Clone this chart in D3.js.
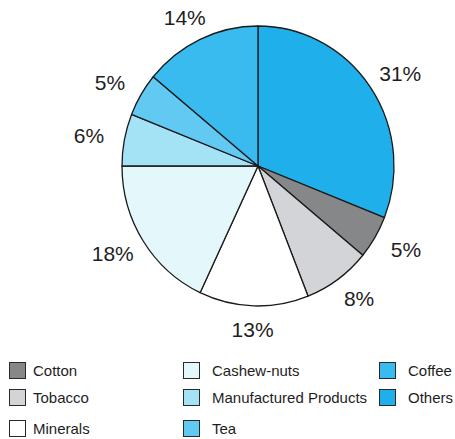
<!DOCTYPE html>
<html>
<head>
<meta charset="utf-8">
<script src="https://cdn.jsdelivr.net/npm/d3@7"></script>
<style>
  html, body { margin: 0; padding: 0; background: #fff; }
  svg { display: block; font-family: "Liberation Sans", Arial, Helvetica, sans-serif; }
</style>
</head>
<body>
<svg id="chart" width="455" height="439"></svg>
<script>
// Export shares, clockwise from 12 o'clock
const sliceNames  = ["Others", "Cotton", "Tobacco", "Minerals", "Cashew-nuts", "Manufactured Products", "Tea", "Coffee"];
const sliceValues = [31, 5, 8, 13, 18, 6, 5, 14];

// Legend layout order (column by column)
const legendNames = ["Cotton", "Tobacco", "Minerals", "Cashew-nuts", "Manufactured Products", "Tea", "Coffee", "Others"];

const colors = {
  "Cotton": "#858789",
  "Tobacco": "#d3d4d8",
  "Minerals": "#ffffff",
  "Cashew-nuts": "#e4f8fc",
  "Manufactured Products": "#a4e2f6",
  "Tea": "#62c9f2",
  "Coffee": "#39bbf0",
  "Others": "#1fb0ec"
};

const svg = d3.select("#chart");
const cx = 258, cy = 166;
const rx = 136, ry = 140;

const data = sliceNames.map((n, i) => ({ name: n, value: sliceValues[i] }));
const pie = d3.pie().value(d => d.value).sort(null);
const arcs = pie(data);

// Slightly oval pie: a circle of radius ry, squashed horizontally
const g = svg.append("g")
  .attr("transform", `translate(${cx},${cy}) scale(${rx / ry},1)`);

const arc = d3.arc().innerRadius(0).outerRadius(ry);
g.selectAll("path.slice")
  .data(arcs)
  .join("path")
  .attr("class", "slice")
  .attr("d", arc)
  .attr("fill", d => colors[d.data.name])
  .attr("stroke", "#1a1a1a")
  .attr("stroke-width", 1.3)
  .attr("vector-effect", "non-scaling-stroke")
  .attr("stroke-linejoin", "round");

// Percentage labels on an oval outside the rim
const labelRx = 172, labelRy = 164;
const mid = d => (d.startAngle + d.endAngle) / 2;
svg.append("g")
  .selectAll("text")
  .data(arcs)
  .join("text")
  .attr("x", d => cx + Math.sin(mid(d)) * labelRx)
  .attr("y", d => cy - Math.cos(mid(d)) * labelRy)
  .attr("dy", "0.36em")
  .attr("text-anchor", "middle")
  .attr("font-size", 21)
  .attr("fill", "#1e1e1e")
  .text(d => d.data.value + "%");

// Legend: three columns
const colX = [9, 183, 379];
const rowY = [362, 389, 420];
const perCol = [3, 3, 2];
const items = [];
let k = 0;
perCol.forEach((n, c) => {
  for (let r = 0; r < n; r++) items.push({ name: legendNames[k++], col: c, row: r });
});

const lg = svg.append("g");
const item = lg.selectAll("g.item")
  .data(items)
  .join("g")
  .attr("class", "item")
  .attr("transform", d => `translate(${colX[d.col]},${rowY[d.row]})`);

item.append("rect")
  .attr("x", 0.5).attr("y", 0.5)
  .attr("width", 16).attr("height", 16)
  .attr("fill", d => colors[d.name])
  .attr("stroke", "#2a2a2a")
  .attr("stroke-width", 1);

item.append("text")
  .attr("x", d => d.col === 0 ? 24 : 29)
  .attr("y", 8.5)
  .attr("dy", "0.36em")
  .attr("font-size", 15)
  .attr("fill", "#1e1e1e")
  .text(d => d.name);
</script>
</body>
</html>
